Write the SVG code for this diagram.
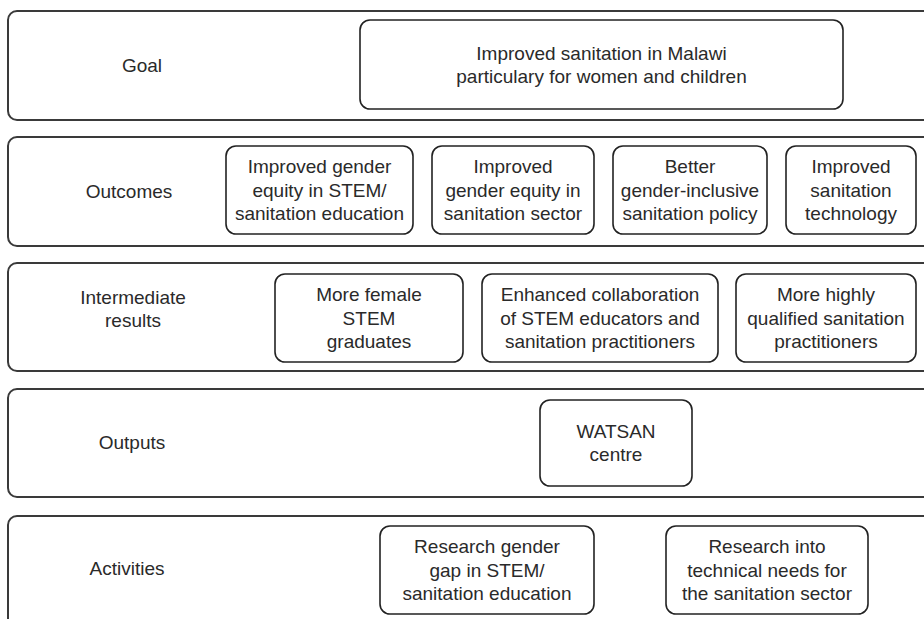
<svg xmlns="http://www.w3.org/2000/svg" width="924" height="619" viewBox="0 0 924 619">
<style>
.row{fill:#fff;stroke:#3a3a3a;stroke-width:2}
.box{fill:#fff;stroke:#222;stroke-width:1.6}
text{font-family:"Liberation Sans",Arial,sans-serif;font-size:19px;fill:#2a2a2a;text-anchor:middle}
</style>
<rect width="924" height="619" fill="#fff"/>
<g id="row-goal">
<rect class="row" x="8" y="11" width="940" height="109" rx="9"/>
<text x="142" y="71.5">Goal</text>
</g>
<g id="row-outcomes">
<rect class="row" x="8" y="137" width="940" height="109" rx="9"/>
<text x="129" y="198">Outcomes</text>
</g>
<g id="row-intermediate">
<rect class="row" x="8" y="263" width="940" height="108" rx="9"/>
<text x="133" y="303.5">Intermediate</text>
<text x="133" y="327">results</text>
</g>
<g id="row-outputs">
<rect class="row" x="8" y="389" width="940" height="108" rx="9"/>
<text x="132" y="448.5">Outputs</text>
</g>
<g id="row-activities">
<rect class="row" x="8" y="516" width="940" height="130" rx="9"/>
<text x="127" y="574.5">Activities</text>
</g>
<g id="goal">
<rect class="box" x="360" y="20" width="483" height="89" rx="10"/>
<text x="601.5" y="59.5">Improved sanitation in Malawi</text>
<text x="601.5" y="83">particulary for women and children</text>
</g>
<g id="outcome1">
<rect class="box" x="226" y="146" width="187" height="88" rx="10"/>
<text x="319.5" y="173">Improved gender</text>
<text x="319.5" y="196.5">equity in STEM/</text>
<text x="319.5" y="220">sanitation education</text>
</g>
<g id="outcome2">
<rect class="box" x="432" y="146" width="162" height="88" rx="10"/>
<text x="513" y="173">Improved</text>
<text x="513" y="196.5">gender equity in</text>
<text x="513" y="220">sanitation sector</text>
</g>
<g id="outcome3">
<rect class="box" x="613" y="146" width="154" height="88" rx="10"/>
<text x="690" y="173">Better</text>
<text x="690" y="196.5">gender-inclusive</text>
<text x="690" y="220">sanitation policy</text>
</g>
<g id="outcome4">
<rect class="box" x="786" y="146" width="130" height="88" rx="10"/>
<text x="851" y="173">Improved</text>
<text x="851" y="196.5">sanitation</text>
<text x="851" y="220">technology</text>
</g>
<g id="ir1">
<rect class="box" x="275" y="274" width="188" height="88" rx="10"/>
<text x="369" y="301">More female</text>
<text x="369" y="324.5">STEM</text>
<text x="369" y="348">graduates</text>
</g>
<g id="ir2">
<rect class="box" x="482" y="274" width="236" height="88" rx="10"/>
<text x="600" y="301">Enhanced collaboration</text>
<text x="600" y="324.5">of STEM educators and</text>
<text x="600" y="348">sanitation practitioners</text>
</g>
<g id="ir3">
<rect class="box" x="736" y="274" width="180" height="88" rx="10"/>
<text x="826" y="301">More highly</text>
<text x="826" y="324.5">qualified sanitation</text>
<text x="826" y="348">practitioners</text>
</g>
<g id="output1">
<rect class="box" x="540" y="400" width="152" height="86" rx="10"/>
<text x="616" y="437.5">WATSAN</text>
<text x="616" y="461">centre</text>
</g>
<g id="activity1">
<rect class="box" x="380" y="526" width="214" height="88" rx="10"/>
<text x="487" y="553">Research gender</text>
<text x="487" y="576.5">gap in STEM/</text>
<text x="487" y="600">sanitation education</text>
</g>
<g id="activity2">
<rect class="box" x="666" y="526" width="202" height="88" rx="10"/>
<text x="767" y="553">Research into</text>
<text x="767" y="576.5">technical needs for</text>
<text x="767" y="600">the sanitation sector</text>
</g>
<g id="connectors"></g>
</svg>
